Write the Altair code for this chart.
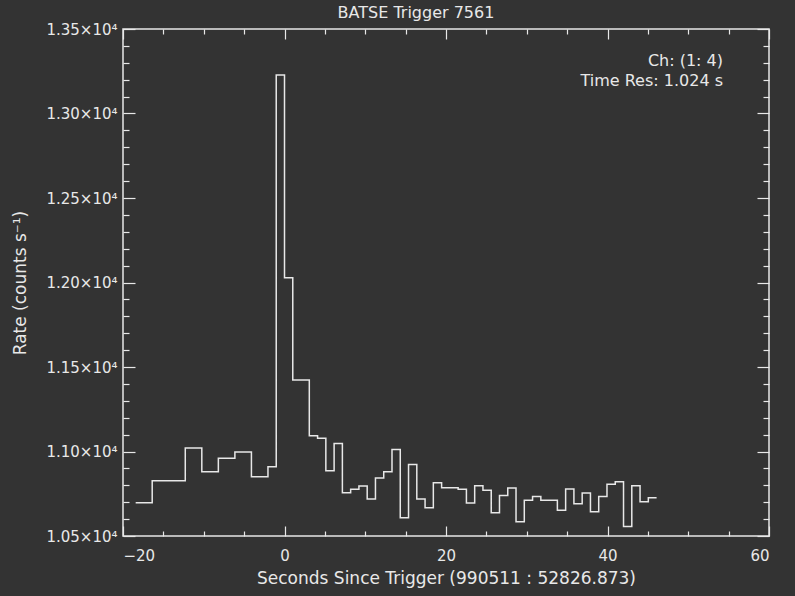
import altair as alt
import pandas as pd

# ---- data (BATSE trigger 7561, 1.024 s bins) ----
edges = [-18.432, -16.384, -12.288, -10.240, -8.192, -6.144, -4.096, -2.048, -1.024,
         0.0, 1.024, 3.072, 4.096, 5.120, 6.144, 7.168, 8.192, 9.216, 10.240, 11.264,
         12.288, 13.312, 14.336, 15.360, 16.384, 17.408, 18.432, 19.456, 21.504, 22.528,
         23.552, 24.576, 25.600, 26.624, 27.648, 28.672, 29.696, 30.720, 31.744, 33.792,
         34.816, 35.840, 36.864, 37.888, 38.912, 39.936, 40.960, 41.984, 43.008, 44.032,
         45.056, 46.080]
rates = [10697, 10827, 11021, 10880, 10960, 10997, 10851, 10910, 13228, 12028,
         11423, 11093, 11078, 10886, 11048, 10756, 10776, 10796, 10719, 10843,
         10880, 11012, 10608, 10923, 10719, 10667, 10815, 10785, 10777, 10696,
         10798, 10770, 10638, 10740, 10784, 10585, 10712, 10733, 10711, 10652,
         10778, 10691, 10754, 10644, 10733, 10806, 10821, 10556, 10797, 10702,
         10726]

x_major = [-20, 0, 20, 40, 60]
x_minor = [-15, -10, -5, 5, 10, 15, 25, 30, 35, 45, 50, 55]
y_major = [10500, 11000, 11500, 12000, 12500, 13000, 13500]
y_minor = [v for v in range(10500, 13501, 100) if v % 500 != 0]

title_text = "BATSE Trigger 7561"
x_title = "Seconds Since Trigger (990511 : 52826.873)"
y_title = "Rate (counts s\u207b\u00b9)"
note_text = "Ch: (1: 4)\nTime Res: 1.024 s"

df = pd.DataFrame({"t": edges, "rate": rates + [rates[-1]]})

BG = "#333333"
FG = "#e8e8e8"
FONT = "DejaVu Sans"
W, H = 646, 507
X_DOM = [-20, 60]
Y_DOM = [10500, 13500]


def tick_axis(orient, values, size):
    return alt.Axis(orient=orient, values=values, labels=False, domain=False,
                    ticks=True, tickSize=size, offset=-size, tickColor=FG,
                    tickWidth=1.2, grid=False, title=None)


def layer(xaxis, yaxis, visible=False):
    return alt.Chart(df).mark_line(
        interpolate="step-after", color=FG, strokeWidth=1.5,
        opacity=1 if visible else 0
    ).encode(
        x=alt.X("t:Q", scale=alt.Scale(domain=X_DOM, nice=False, zero=False), axis=xaxis),
        y=alt.Y("rate:Q", scale=alt.Scale(domain=Y_DOM, nice=False, zero=False), axis=yaxis),
    )


x_main = alt.Axis(orient="bottom", values=x_major, format="d", ticks=False, tickSize=0,
                  domain=False, grid=False, labelColor=FG, labelFont=FONT, labelFontSize=15,
                  labelPadding=12, title=x_title, titleColor=FG, titleFont=FONT,
                  titleFontSize=17, titleFontWeight="normal", titleY=42,
                  titleBaseline="middle")
y_main = alt.Axis(orient="left", values=y_major,
                  labelExpr="format(datum.value / 10000, '.2f') + '\u00d710\u2074'",
                  ticks=False, tickSize=0, domain=False, grid=False, labelColor=FG,
                  labelFont=FONT, labelFontSize=15, labelPadding=6, title=y_title,
                  titleColor=FG, titleFont=FONT, titleFontSize=17,
                  titleFontWeight="normal", titleX=-103, titleY=H / 2, titleAngle=270,
                  titleBaseline="middle", titleAlign="center")

l0 = layer(x_main, y_main, visible=True)
l1 = layer(tick_axis("bottom", x_major, 10), tick_axis("left", y_major, 12))
l2 = layer(tick_axis("bottom", x_minor, 5), tick_axis("left", y_minor, 6))
l3 = layer(tick_axis("top", x_major, 10), tick_axis("right", y_major, 12))
l4 = layer(tick_axis("top", x_minor, 5), tick_axis("right", y_minor, 6))

note = alt.Chart(pd.DataFrame({"txt": [note_text]})).mark_text(
    align="right", baseline="top", font=FONT, fontSize=16, color=FG,
    lineBreak="\n", lineHeight=20
).encode(text="txt:N", x=alt.value(600), y=alt.value(24))

chart = alt.layer(l0, l1, l2, l3, l4, note).resolve_scale(
    x="independent", y="independent"
).properties(
    width=W, height=H, background=BG,
    title=alt.TitleParams(title_text, font=FONT, fontSize=16, fontWeight="normal",
                          color=FG, anchor="middle", dx=-30, offset=1),
    autosize=alt.AutoSizeParams(type="none"),
    padding={"left": 123, "top": 29, "right": 26, "bottom": 60},
).configure_view(stroke=FG, strokeWidth=1.5)

chart.save("out.html", embed_options={"renderer": "svg", "actions": False})
